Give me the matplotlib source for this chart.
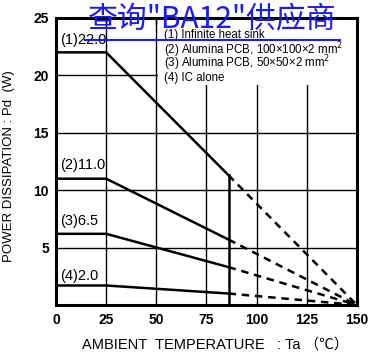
import matplotlib
matplotlib.use("Agg")
import matplotlib.pyplot as plt
from matplotlib.patches import Rectangle
from matplotlib.lines import Line2D

# data
ta_knee = 25
ta_cut = 86
ta_max = 150
pd_max = [22.0, 11.0, 6.2, 1.7]
pd_at_cut = [11.3, 5.7, 3.3, 1.0]
curve_labels = ["(1)22.0", "(2)11.0", "(3)6.5", "(4)2.0"]
label_y = [23.1, 12.2, 7.3, 2.5]
legend_lines = ["(1) Infinite heat sink",
                "(2) Alumina PCB, 100\u00d7100\u00d72 mm$^2$",
                "(3) Alumina PCB, 50\u00d750\u00d72 mm$^2$",
                "(4) IC alone"]
legend_y = [23.5, 22.2, 21.05, 19.75]
xticks = [0, 25, 50, 75, 100, 125, 150]
yticks = [5, 10, 15, 20, 25]

plt.rcParams['font.family'] = ['Liberation Sans', 'DejaVu Sans']

fig = plt.figure(figsize=(3.71, 3.58), dpi=100)
ax = fig.add_axes([0.151, 0.148, 0.811, 0.802])

ax.set_xlim(0, 150)
ax.set_ylim(0, 25)
ax.set_xticks(xticks)
ax.set_yticks(yticks)
ax.grid(True, color="black", lw=1.0, zorder=1)

# white box behind the legend text hides the grid there
ax.add_patch(Rectangle((50.6, 19.2), 99.4, 5.8, facecolor="white", edgecolor="none", zorder=2))

for i in range(len(pd_max)):
    ax.plot([0, ta_knee, ta_cut], [pd_max[i], pd_max[i], pd_at_cut[i]], color="black", lw=1.8, zorder=3)
    ax.plot([ta_cut, ta_max], [pd_at_cut[i], 0], color="black", lw=1.8, ls=(0, (3, 2.3)), zorder=3)
    ax.text(2, label_y[i], curve_labels[i], fontsize=10.5, ha="left", va="center", zorder=4)

ax.plot([ta_cut, ta_cut], [0, pd_at_cut[0]], color="black", lw=1.8, zorder=3)

for t, y in zip(legend_lines, legend_y):
    ax.text(54, y, t, fontsize=8.3, ha="left", va="center", zorder=4)

for s in ax.spines.values():
    s.set_linewidth(2.2)
ax.tick_params(axis="y", length=0, labelsize=10, pad=5)
ax.tick_params(axis="x", direction="in", length=5, width=1.0, top=True, bottom=False,
               labelsize=10, pad=6)
for lab in ax.get_xticklabels() + ax.get_yticklabels():
    lab.set_fontweight("bold")

ax.set_xlabel("AMBIENT  TEMPERATURE   : Ta \uff08\u2103\uff09", fontsize=10.5, labelpad=9,
              family=['Liberation Sans', 'Noto Sans CJK SC', 'DejaVu Sans'])
ax.xaxis.set_label_coords(0.53, -0.115)
ax.set_ylabel("POWER DISSIPATION : Pd  (W)", fontsize=9.5)
ax.yaxis.set_label_coords(-0.135, 0.485)

# watermark text with underline
fig.text(0.572, 0.945, "查询\"BA12\"供应商", fontsize=21.5, color="#1a1aff",
         ha="center", va="center", family=['Noto Sans CJK SC', 'DejaVu Sans'])
fig.add_artist(Line2D([0.229, 0.916], [0.887, 0.887], color="#1a1aff", lw=1.5))

fig.savefig("out.png", dpi=100)
